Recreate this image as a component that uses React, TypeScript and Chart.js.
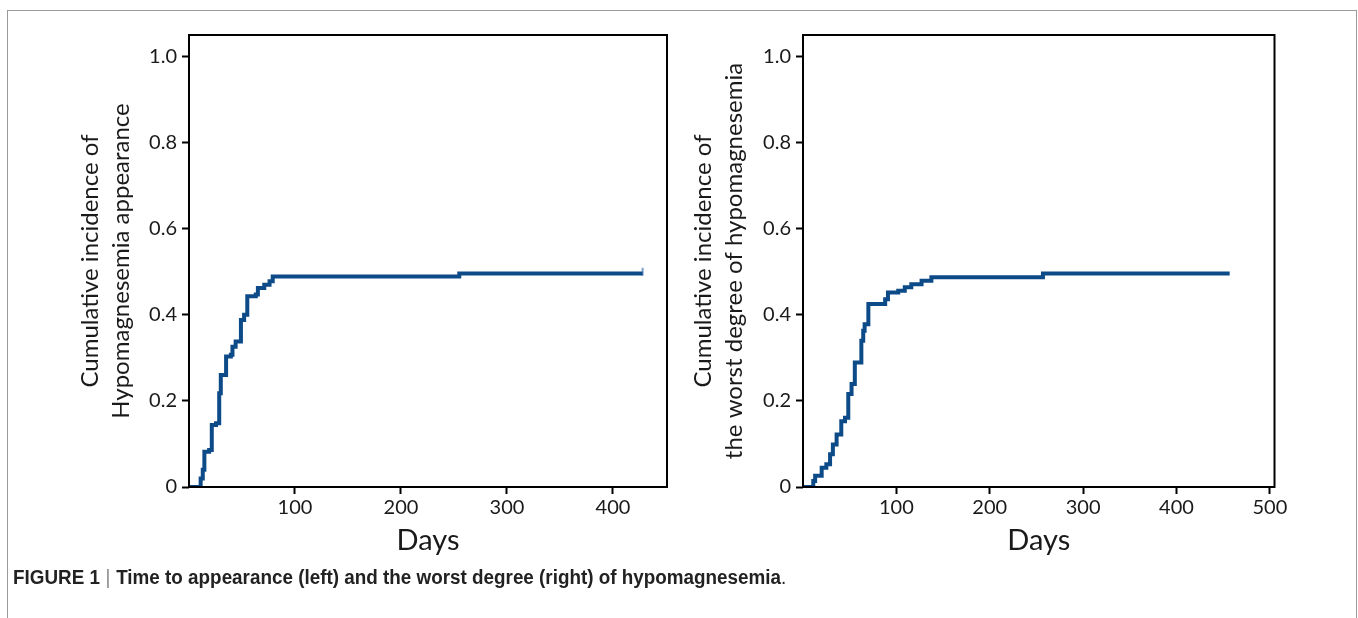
import React, { useEffect, useLayoutEffect, useRef } from 'react';
import { Chart, registerables } from 'chart.js';

Chart.register(...registerables);

// ---- data ----
const leftDays = [0, 11, 13, 14.5, 19, 21.5, 25.5, 28.5, 30, 35, 39.5, 41, 44, 49, 52, 55, 63, 65, 71, 76, 79, 255, 428];
const leftIncidence = [0, 0.02, 0.04, 0.082, 0.086, 0.144, 0.148, 0.218, 0.26, 0.303, 0.307, 0.326, 0.338, 0.388, 0.4, 0.443, 0.447, 0.462, 0.47, 0.478, 0.489, 0.496, 0.496];
const leftCensorDays = [428];
const leftCensorIncidence = [0.5];

const rightDays = [0, 11, 13, 20, 25, 29, 32, 36, 41, 45, 48.5, 52, 55.5, 62.5, 64.5, 66, 70, 88, 91, 102, 109, 116, 127, 137.5, 257, 457];
const rightIncidence = [0, 0.014, 0.026, 0.045, 0.053, 0.076, 0.099, 0.122, 0.153, 0.161, 0.216, 0.239, 0.289, 0.34, 0.363, 0.378, 0.425, 0.436, 0.452, 0.456, 0.464, 0.471, 0.479, 0.487, 0.496, 0.496];
const rightCensorDays: number[] = [];
const rightCensorIncidence: number[] = [];

const yTickValues = [0, 0.2, 0.4, 0.6, 0.8, 1.0];
const leftXTicks = [100, 200, 300, 400];
const rightXTicks = [100, 200, 300, 400, 500];
const leftYTitle = ['Cumulative incidence of', 'Hypomagnesemia appearance'];
const rightYTitle = ['Cumulative incidence of', 'the worst degree of hypomagnesemia'];
const xTitle = 'Days';
const captionLabel = 'FIGURE 1';
const captionText = 'Time to appearance (left) and the worst degree (right) of hypomagnesemia';

const LINE_COLOR = '#0d4a88';
const CENSOR_COLOR = '#7f9fcc';
const TEXT_COLOR = '#1a1a1a';
const FONT = 'Lato, "Open Sans", sans-serif';

const boxPlugin = {
  id: 'plotBox',
  afterDraw(chart: any) {
    const { ctx, chartArea: a } = chart;
    ctx.save();
    ctx.strokeStyle = '#000';
    ctx.lineWidth = 2;
    ctx.strokeRect(a.left, a.top, a.right - a.left, a.bottom - a.top);
    ctx.restore();
  },
};

type KMProps = {
  days: number[];
  inc: number[];
  censorDays: number[];
  censorInc: number[];
  xMax: number;
  xTicks: number[];
  yTitle: string[];
  left: number;
  width: number;
  yAxisWidth: number;
  yTitlePad: number;
  padRight: number;
};

const CANVAS_H = 600;

function KMChart(p: KMProps) {
  const ref = useRef<HTMLCanvasElement | null>(null);
  useEffect(() => {
    if (!ref.current) return;
    const pts = p.days.map((d, i) => ({ x: d, y: p.inc[i] }));
    const cpts = p.censorDays.map((d, i) => ({ x: d, y: p.censorInc[i] }));
    const chart = new Chart(ref.current, {
      type: 'line',
      data: {
        datasets: [
          {
            data: pts,
            borderColor: LINE_COLOR,
            borderWidth: 4,
            stepped: 'before',
            pointRadius: 0,
            fill: false,
          },
          {
            data: cpts,
            showLine: false,
            pointStyle: 'line',
            rotation: 90,
            pointRadius: 4,
            borderWidth: 2,
            borderColor: CENSOR_COLOR,
            backgroundColor: CENSOR_COLOR,
          },
        ],
      },
      options: {
        animation: false,
        responsive: false,
        devicePixelRatio: 1,
        layout: { padding: { top: 35, right: p.padRight, left: 0, bottom: 0 } },
        plugins: { legend: { display: false }, tooltip: { enabled: false } },
        scales: {
          x: {
            type: 'linear',
            min: 0,
            max: p.xMax,
            afterBuildTicks: (s: any) => {
              s.ticks = p.xTicks.map((v) => ({ value: v }));
            },
            afterFit: (s: any) => {
              s.height = CANVAS_H - 487;
            },
            grid: { drawOnChartArea: false, drawTicks: true, tickLength: 7, tickWidth: 2, tickColor: '#000' },
            border: { display: false },
            ticks: { color: TEXT_COLOR, font: { family: FONT, size: 20 }, padding: 2, maxRotation: 0, autoSkip: false },
            title: {
              display: true,
              text: xTitle,
              color: TEXT_COLOR,
              font: { family: FONT, size: 29, lineHeight: 1.2 },
              padding: { top: 0, bottom: 41.6 },
            },
          },
          y: {
            type: 'linear',
            min: 0,
            max: 1.05,
            afterBuildTicks: (s: any) => {
              s.ticks = yTickValues.map((v) => ({ value: v }));
            },
            afterFit: (s: any) => {
              s.width = p.yAxisWidth;
            },
            grid: { drawOnChartArea: false, drawTicks: true, tickLength: 7, tickWidth: 2, tickColor: '#000' },
            border: { display: false },
            ticks: {
              color: TEXT_COLOR,
              font: { family: FONT, size: 20 },
              padding: 5,
              callback: (v: any) => (Number(v) === 0 ? '0' : Number(v).toFixed(1)),
            },
            title: {
              display: true,
              text: p.yTitle,
              color: TEXT_COLOR,
              font: { family: FONT, size: 24, lineHeight: 1.3 },
              padding: { top: p.yTitlePad, bottom: 0 },
            },
          },
        },
      },
      plugins: [boxPlugin],
    } as any);
    return () => chart.destroy();
  }, []);
  return (
    <canvas
      ref={ref}
      width={p.width}
      height={CANVAS_H}
      style={{ position: 'absolute', left: p.left, top: 0, width: p.width, height: CANVAS_H }}
    />
  );
}

function Caption() {
  const ref = useRef<HTMLSpanElement | null>(null);
  useLayoutEffect(() => {
    const el = ref.current;
    if (!el) return;
    const w = el.offsetWidth;
    if (w > 0) el.style.transform = `scaleX(${773 / w})`;
  }, []);
  return (
    <span
      ref={ref}
      style={{
        position: 'absolute',
        left: 13,
        top: 565,
        display: 'inline-block',
        whiteSpace: 'nowrap',
        transformOrigin: 'left top',
        fontFamily: '"Liberation Sans", Arial, sans-serif',
        fontSize: 20,
        lineHeight: '24px',
        color: '#222',
      }}
    >
      <b>{captionLabel}</b>
      <span style={{ color: '#888', fontWeight: 300, margin: '0 6px' }}>|</span>
      <b>{captionText}</b>.
    </span>
  );
}

export default function App() {
  return (
    <div
      style={{
        position: 'absolute',
        left: 0,
        top: 0,
        width: 1358,
        height: 618,
        overflow: 'hidden',
        background: '#fff',
      }}
    >
      <div
        style={{
          position: 'absolute',
          left: 7,
          top: 10,
          width: 1348,
          height: 700,
          border: '1px solid #9a9a9a',
          borderBottom: 'none',
        }}
      />
      <KMChart
        days={leftDays}
        inc={leftIncidence}
        censorDays={leftCensorDays}
        censorInc={leftCensorIncidence}
        xMax={451}
        xTicks={leftXTicks}
        yTitle={leftYTitle}
        left={40}
        width={660}
        yAxisWidth={149}
        yTitlePad={34.4}
        padRight={33}
      />
      <KMChart
        days={rightDays}
        inc={rightIncidence}
        censorDays={rightCensorDays}
        censorInc={rightCensorIncidence}
        xMax={505}
        xTicks={rightXTicks}
        yTitle={rightYTitle}
        left={655}
        width={660}
        yAxisWidth={148}
        yTitlePad={32.4}
        padRight={40.5}
      />
      <Caption />
    </div>
  );
}
